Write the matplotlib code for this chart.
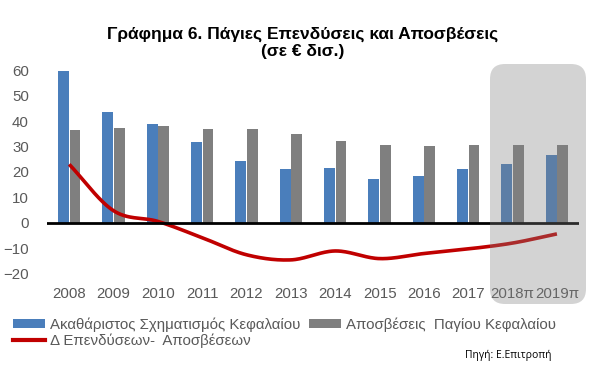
import numpy as np
import matplotlib
matplotlib.use("Agg")
import matplotlib.pyplot as plt
from matplotlib.patches import FancyBboxPatch, Patch
from matplotlib.lines import Line2D

years = ["2008", "2009", "2010", "2011", "2012", "2013", "2014", "2015",
         "2016", "2017", "2018π", "2019π"]
gross_capital = [59.5, 43.5, 39.0, 31.6, 24.2, 21.0, 21.5, 17.1, 18.5, 21.0, 23.3, 26.7]
depreciation = [36.3, 37.4, 37.9, 36.8, 36.8, 35.0, 32.1, 30.6, 30.1, 30.6, 30.6, 30.6]
difference = [23.0, 4.8, 0.6, -5.8, -12.5, -14.5, -11.0, -14.0, -12.0, -10.2, -7.9, -4.3]
yticks = [-20, -10, 0, 10, 20, 30, 40, 50, 60]

label_gross = "Ακαθάριστος Σχηματισμός Κεφαλαίου"
label_dep = "Αποσβέσεις  Παγίου Κεφαλαίου"
label_diff = "Δ Επενδύσεων-  Αποσβέσεων"
title = "Γράφημα 6. Πάγιες Επενδύσεις και Αποσβέσεις\n(σε € δισ.)"
source = "Πηγή: Ε.Επιτροπή"

BLUE = "#4A7EBB"
GRAY = "#7F7F7F"
RED = "#C00000"
TXT = "#595959"

plt.rcParams['font.family'] = ['Liberation Sans', 'DejaVu Sans']

fig = plt.figure(figsize=(6.06, 3.8), dpi=100)
ax = fig.add_axes([0.0776, 0.2658, 0.878, 0.5566])

x = np.arange(len(years))
w = 0.245
ax.bar(x - 0.13, gross_capital, width=w, color=BLUE, zorder=2)
ax.bar(x + 0.13, depreciation, width=w, color=GRAY, zorder=2)


def catmull_rom(xs, ys, n=30):
    xs = np.asarray(xs, float)
    ys = np.asarray(ys, float)
    px = np.concatenate([[2 * xs[0] - xs[1]], xs, [2 * xs[-1] - xs[-2]]])
    py = np.concatenate([[2 * ys[0] - ys[1]], ys, [2 * ys[-1] - ys[-2]]])
    outx, outy = [], []
    for i in range(1, len(px) - 2):
        t = np.linspace(0, 1, n, endpoint=False)
        for arr, out in ((px, outx), (py, outy)):
            p0, p1, p2, p3 = arr[i - 1], arr[i], arr[i + 1], arr[i + 2]
            out.extend(0.5 * ((2 * p1) + (-p0 + p2) * t +
                              (2 * p0 - 5 * p1 + 4 * p2 - p3) * t ** 2 +
                              (-p0 + 3 * p1 - 3 * p2 + p3) * t ** 3))
    outx.append(xs[-1])
    outy.append(ys[-1])
    return np.array(outx), np.array(outy)


sx, sy = catmull_rom(x, difference)
ax.plot(sx, sy, color=RED, lw=2.6, solid_capstyle='butt', zorder=3)

ax.axhline(0, color="black", lw=2, zorder=4)
ax.set_xlim(-0.5, len(years) - 0.5)
ax.set_ylim(-22, 61)
ax.set_yticks(yticks)
ax.set_xticks(x)
ax.set_xticklabels(years)
ax.tick_params(axis='both', length=0, labelsize=10.8, labelcolor=TXT)
ax.tick_params(axis='y', pad=13)
ax.tick_params(axis='x', pad=6)
for s in ax.spines.values():
    s.set_visible(False)

fig.text(0.5, 0.887, title, ha='center', va='center', fontsize=12.5,
         fontweight='bold', color='black', linespacing=1.1)

# shaded forecast box
r = 0.15
bx0, bx1 = 4.90, 5.86
by0, by1 = 0.76, 3.16
box = FancyBboxPatch((bx0 + r, by0 + r), bx1 - bx0 - 2 * r, by1 - by0 - 2 * r,
                     boxstyle=f"round,pad={r}", transform=fig.dpi_scale_trans,
                     facecolor="#808080", edgecolor='none', alpha=0.34, zorder=5)
fig.add_artist(box)

handles = [Patch(facecolor=BLUE, edgecolor='none'),
           Line2D([], [], color=RED, lw=3),
           Patch(facecolor=GRAY, edgecolor='none')]
labels = [label_gross, label_diff, label_dep]
leg = fig.legend(handles, labels, ncol=2, loc='upper left',
                 bbox_to_anchor=(0.022, 0.165), frameon=False, fontsize=10.8,
                 handlelength=2.1, handleheight=0.5, handletextpad=0.35,
                 columnspacing=0.6, labelspacing=0.12, borderaxespad=0,
                 borderpad=0)
for t in leg.get_texts():
    t.set_color(TXT)

fig.text(0.767, 0.065, source, ha='left', va='center', fontsize=7.5,
         family=['Open Sans', 'DejaVu Sans'], color='black')

fig.savefig("out.png", dpi=100)
